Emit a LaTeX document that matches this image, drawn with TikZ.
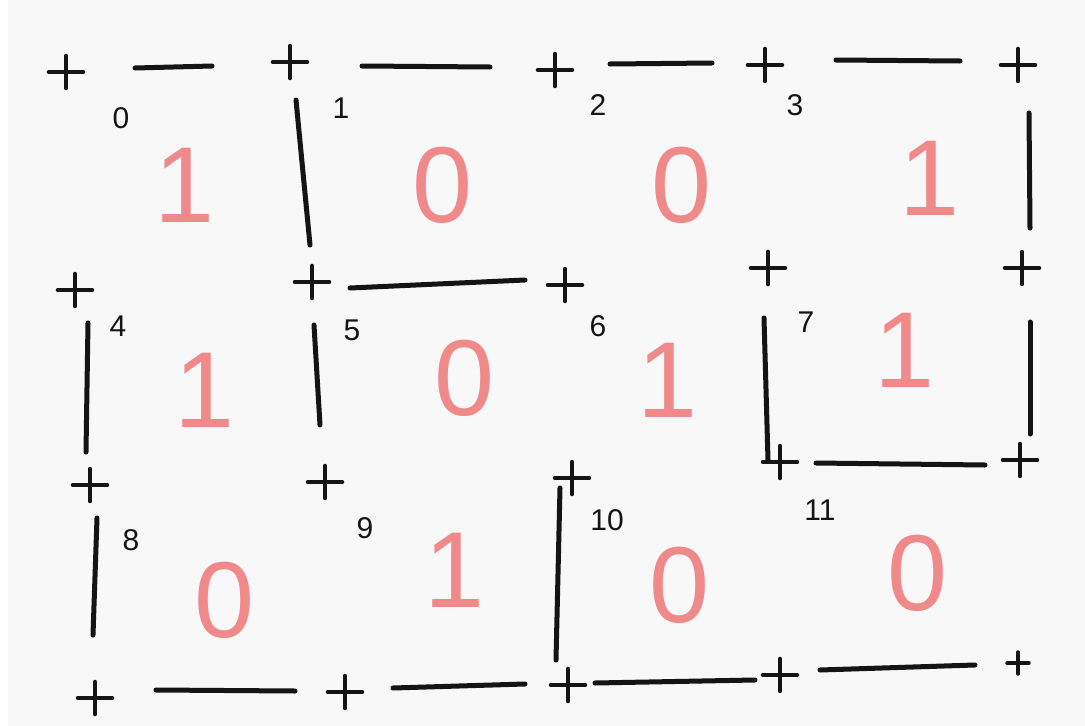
\documentclass[tikz,border=0pt]{standalone}
\usepackage{fontspec}
\setmainfont{Liberation Sans}
\definecolor{marker}{RGB}{240,138,138}
\definecolor{ink}{RGB}{20,20,20}
\definecolor{board}{RGB}{248,248,248}
\begin{document}
\begin{tikzpicture}[x=1pt,y=-1pt,
  wall/.style={line width=5pt,ink,line cap=round},
  idx/.style={text=ink,font=\fontsize{30}{30}\selectfont,inner sep=0pt},
  val/.style={text=marker,font=\fontsize{108}{108}\selectfont,inner sep=0pt},
  plus/.pic={\draw[line width=4.6pt,ink,line cap=round] (-17,0) -- (17,0) (0,-16) -- (0,16);},
  smallplus/.pic={\draw[line width=3.4pt,ink,line cap=round] (-11,0) -- (11,0) (0,-11) -- (0,11);}]
\useasboundingbox (0,0) rectangle (1085,726);
\fill[white] (0,0) rectangle (1085,726);
\fill[board] (8,0) rectangle (1085,726);
% grid corner points
\foreach \n/\x/\y in {a0/66/72,a1/290/62,a2/555/70,a3/765/65,a4/1018/65,
  b0/75/290,b1/312/282,b2/565/285,b3/768/268,b4/1022/268,
  c0/90/485,c1/325/482,c2/572/478,c3/780/462,c4/1020/460,
  d0/95/698,d1/345/692,d2/568/685,d3/780/675}
  {\coordinate (\n) at (\x,\y); \pic at (\n) {plus};}
\coordinate (d4) at (1018,663); \pic at (d4) {smallplus};
% horizontal walls
\draw[wall] (135,68) -- (212,66);
\draw[wall] (362,66) -- (490,67);
\draw[wall] (610,64) -- (712,63);
\draw[wall] (836,60) -- (960,61);
\draw[wall] (350,288) -- (525,280);
\draw[wall] (816,463) -- (985,465);
\draw[wall] (156,690) -- (295,691);
\draw[wall] (393,688) -- (525,684);
\draw[wall] (595,683) -- (755,680);
\draw[wall] (820,670) -- (975,665);
% vertical walls
\draw[wall] (296,100) -- (310,245);
\draw[wall] (1029,113) -- (1030,228);
\draw[wall] (88,323) -- (86,452);
\draw[wall] (314,325) -- (320,425);
\draw[wall] (764,318) -- (768,460);
\draw[wall] (1030,322) -- (1030,434);
\draw[wall] (97,518) -- (93,635);
\draw[wall] (560,488) -- (556,660);
% cell indices
\foreach \t/\x/\y in {0/121/118,1/341/108,2/598/105,3/795/105,
  4/118/326,5/352/330,6/598/326,7/806/322,
  8/131/540,9/365/528,10/607/520,11/820/510}
  \node[idx] (i\t) at (\x,\y) {\t};
% cell values
\foreach \t/\v/\x/\y in {0/1/185/185,1/0/443/185,2/0/682/185,3/1/930/178,
  4/1/205/390,5/0/465/378,6/1/668/380,7/1/905/350,
  8/0/225/600,9/1/455/570,10/0/680/585,11/0/918/573}
  \node[val] (v\t) at (\x,\y) {\v};
\end{tikzpicture}
\end{document}
